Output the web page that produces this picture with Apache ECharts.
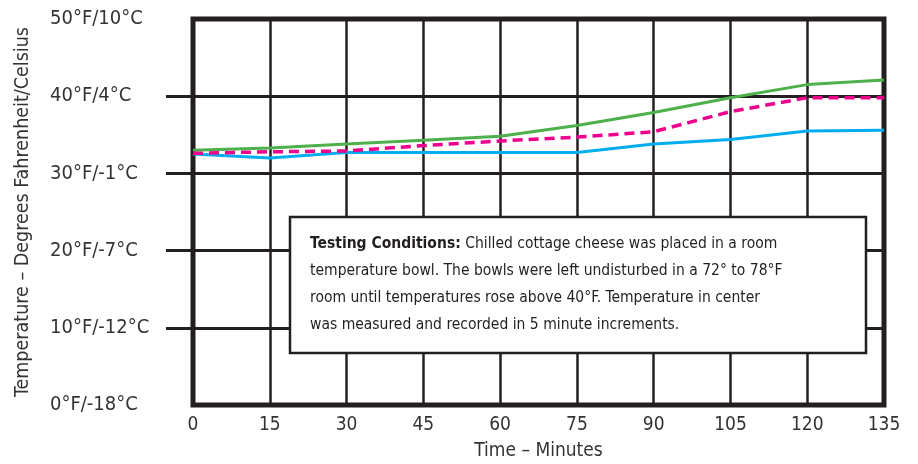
<!DOCTYPE html>
<html>
<head>
<meta charset="utf-8">
<script src="https://cdn.jsdelivr.net/npm/echarts@6/dist/echarts.min.js"></script>
<style>
  html, body { margin: 0; padding: 0; background: #fff; }
  #chart { width: 918px; height: 464px; }
</style>
</head>
<body>
<div id="chart"></div>
<script>
// minutes on the x axis
var minutes = [0, 15, 30, 45, 60, 75, 90, 105, 120, 135];
// temperatures (°F)
var greenTemps = [33.0, 33.3, 33.8, 34.3, 34.8, 36.2, 37.9, 39.8, 41.5, 42.1];
var pinkTemps  = [32.6, 32.8, 32.9, 33.6, 34.2, 34.7, 35.4, 38.0, 39.8, 39.8];
var blueTemps  = [32.5, 32.0, 32.7, 32.7, 32.7, 32.7, 33.8, 34.4, 35.5, 35.6];
// y tick labels
var yLabels = {0: '0°F/-18°C', 10: '10°F/-12°C', 20: '20°F/-7°C', 30: '30°F/-1°C', 40: '40°F/4°C', 50: '50°F/10°C'};

var FONT = "'Liberation Sans Narrow', 'DejaVu Sans Condensed', 'Roboto', sans-serif";
var INK = '#231f20';

function pairs(vals){
	var out = [];
	for (var i = 0; i < minutes.length; i++) {
		out.push([minutes[i], vals[i]]);
	}
	return out;
}

var myChart = echarts.init(document.getElementById('chart'));
var option = {
	animation: false,
	grid: {
		left: 193, right: 34, top: 19, bottom: 59,
		outerBoundsMode: 'none',
		containLabel: false,
		show: true,
		borderColor: INK,
		borderWidth: 5,
		backgroundColor: 'transparent'
	},
	xAxis: {
		type: 'value',
		min: 0, max: 135, interval: 15,
		name: 'Time – Minutes',
		nameLocation: 'middle',
		nameGap: 37,
		nameTextStyle: { fontFamily: FONT, fontSize: 19, color: '#333' },
		axisLine: { show: false },
		axisTick: { show: false },
		axisLabel: { fontFamily: FONT, fontSize: 19, color: '#333', margin: 11 },
		splitLine: { show: true, lineStyle: { color: INK, width: 2.5 } }
	},
	yAxis: {
		type: 'value',
		min: 0, max: 50, interval: 10,
		name: 'Temperature – Degrees Fahrenheit/Celsius',
		nameLocation: 'middle',
		nameGap: 160,
		nameRotate: 90,
		nameTextStyle: { fontFamily: FONT, fontSize: 19.5, color: '#333' },
		axisLine: { show: false },
		axisTick: { show: true, customValues: [10, 20, 30, 40], length: 27, lineStyle: { color: INK, width: 3 } },
		axisLabel: {
			fontFamily: FONT, fontSize: 20, color: '#333',
			align: 'left', margin: 143,
			formatter: function(v){ return yLabels[v]; }
		},
		splitLine: { show: true, lineStyle: { color: INK, width: 3 } }
	},
	series: [
		{
			name: 'green', type: 'line', data: pairs(greenTemps),
			symbol: 'none', z: 3,
			lineStyle: { color: '#4db04a', width: 3 }
		},
		{
			name: 'blue', type: 'line', data: pairs(blueTemps),
			symbol: 'none', z: 3,
			lineStyle: { color: '#00aeef', width: 3 }
		},
		{
			name: 'pink', type: 'line', data: pairs(pinkTemps),
			symbol: 'none', z: 4,
			lineStyle: { color: '#ec008c', width: 3.5, type: [10, 6] }
		}
	],
	graphic: [
		{
			type: 'rect', z: 100,
			shape: { x: 290, y: 217, width: 576, height: 136 },
			style: { fill: '#fff', stroke: INK, lineWidth: 2.5 }
		},
		{
			type: 'text', z: 101, left: 310, top: 230,
			style: {
				text: '{b|Testing Conditions:} Chilled cottage cheese was placed in a room\ntemperature bowl. The bowls were left undisturbed in a 72° to 78°F\nroom until temperatures rose above 40°F. Temperature in center\nwas measured and recorded in 5 minute increments.',
				fontFamily: FONT, fontSize: 15.5, fill: '#231f20', lineHeight: 27,
				rich: {
					b: { fontFamily: FONT, fontSize: 15.5, fontWeight: 'bold', fill: '#231f20', lineHeight: 27 }
				}
			}
		}
	]
};
myChart.setOption(option);
</script>
</body>
</html>
